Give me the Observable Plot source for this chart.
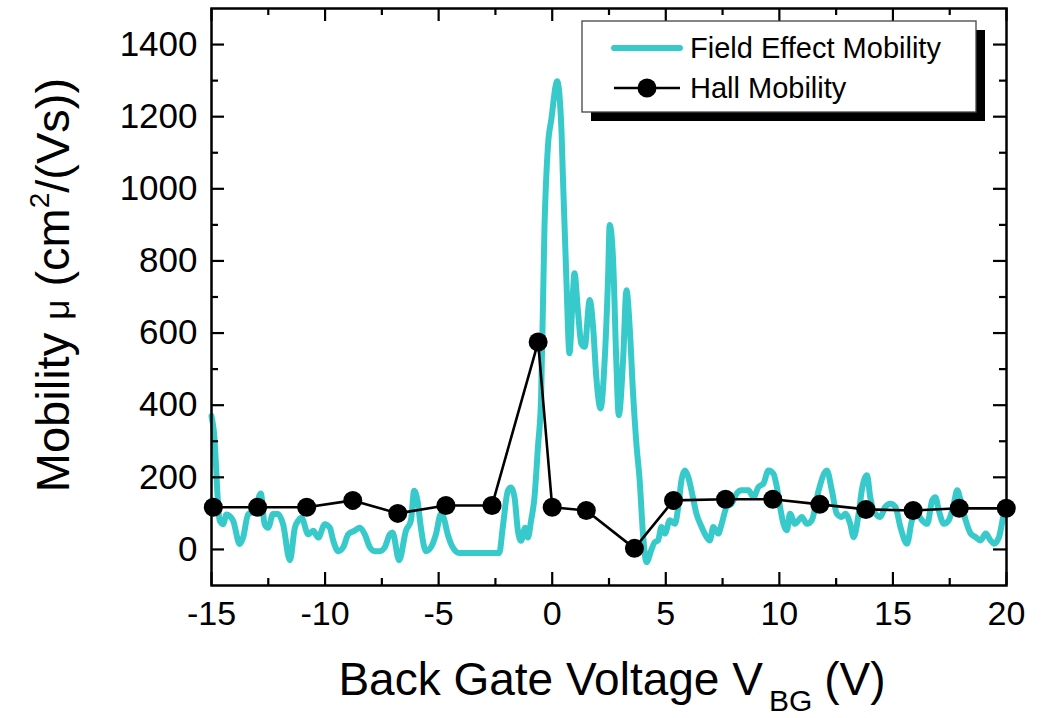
<!DOCTYPE html>
<html><head><meta charset="utf-8">
<script src="https://cdn.jsdelivr.net/npm/d3@7"></script>
<script src="https://cdn.jsdelivr.net/npm/@observablehq/plot@0.6"></script>
<style>body{margin:0;background:#fff;} #chart{width:1042px;height:718px;}</style>
</head><body><div id="chart"></div>
<script>
// ---- data ----
const fieldV = [-15.0,-14.9,-14.64,-14.49,-14.34,-14.05,-13.76,-13.61,-13.39,-13.10,-12.83,-12.66,-12.51,-12.29,-12.07,-11.85,-11.55,-11.33,-11.18,-11.04,-10.74,-10.52,-10.30,-10.01,-9.79,-9.64,-9.42,-9.20,-8.98,-8.69,-8.47,-8.25,-8.03,-7.81,-7.59,-7.37,-7.15,-7.03,-6.74,-6.44,-6.22,-6.08,-5.93,-5.78,-5.56,-5.34,-5.12,-4.90,-4.78,-4.60,-4.38,-4.09,-2.33,-2.18,-1.95,-1.81,-1.66,-1.51,-1.37,-1.19,-1.07,-0.93,-0.78,-0.63,-0.49,-0.34,-0.19,-0.04,0.22,0.40,0.47,0.62,0.76,0.91,0.98,1.13,1.28,1.43,1.65,1.80,1.94,2.13,2.31,2.46,2.53,2.68,2.82,2.93,3.12,3.27,3.41,3.56,3.71,3.85,4.00,4.15,4.37,4.51,4.66,4.81,4.96,5.18,5.40,5.55,5.69,5.84,5.99,6.13,6.35,6.58,6.80,6.94,7.09,7.31,7.46,7.68,7.90,8.12,8.34,8.64,8.86,9.08,9.30,9.52,9.74,9.89,10.03,10.18,10.33,10.47,10.69,10.99,11.21,11.43,11.73,12.09,12.31,12.53,12.75,12.90,13.12,13.27,13.49,13.63,13.86,14.00,14.15,14.44,14.66,14.89,15.11,15.33,15.62,15.84,16.06,16.28,16.51,16.73,16.87,17.02,17.24,17.46,17.68,17.83,17.98,18.20,18.42,18.64,18.86,19.08,19.30,19.45,19.67,19.89,20.0];
const fieldMu = [370,330,80,70,97,80,15,33,97,107,155,70,60,98,98,70,-30,60,80,88,42,52,33,70,60,24,-5,6,42,52,60,42,6,-5,-5,6,42,47,-30,52,80,163,135,60,-5,6,42,98,88,42,6,-10,-10,60,163,172,145,52,24,60,33,80,145,283,420,895,1117,1192,1298,1173,1034,756,544,710,766,664,571,562,692,617,479,391,525,756,900,803,525,372,525,719,617,432,290,192,40,-35,0,20,25,62,44,81,71,118,192,219,201,164,99,62,34,25,62,44,71,118,127,155,164,164,145,173,183,219,210,173,118,71,53,99,71,90,71,81,164,219,164,99,90,99,71,34,99,164,206,145,108,90,118,127,118,62,16,81,99,81,71,136,145,108,71,81,127,164,136,81,44,34,25,44,25,16,34,99,115];
const hallV  = [-14.92,-12.97,-10.81,-8.78,-6.80,-4.68,-2.65,-0.62,0.0,1.50,3.62,5.34,7.63,9.71,11.78,13.81,15.89,17.92,19.99];
const hallMu = [117,117,117,136,100,122,122,575,117,108,3,136,139,139,125,111,108,114,114];
const xTicksMajor = [-15,-10,-5,0,5,10,15,20];
const xTicksMinor = [-12.5,-7.5,-2.5,2.5,7.5,12.5,17.5];
const yTicksMajor = [0,200,400,600,800,1000,1200,1400];
const yTicksMinor = [100,300,500,700,900,1100,1300];
const seriesNames = ["Field Effect Mobility","Hall Mobility"];

const cyan = "#38cacb";
const FONT = "'Liberation Sans', Arial, Helvetica, sans-serif";
const W = 1042, H = 718, mL = 211, mR = 36, mT = 8, mB = 133;
const innerW = W - mL - mR, innerH = H - mT - mB;

const field = fieldV.map((v, i) => ({v, mu: fieldMu[i]}));
const hall = hallV.map((v, i) => ({v, mu: hallMu[i]}));

const tickStyle = {stroke: "black", strokeWidth: 2.2};
const chart = Plot.plot({
  width: W, height: H,
  marginLeft: mL, marginRight: mR, marginTop: mT, marginBottom: mB,
  style: {fontFamily: FONT, background: "white", color: "black", overflow: "visible"},
  x: {domain: [-15, 20]},
  y: {domain: [-100, 1500]},
  marks: [
    Plot.line(field, {x: "v", y: "mu", stroke: cyan, strokeWidth: 6, curve: "monotone-x", strokeLinejoin: "round", strokeLinecap: "round"}),
    Plot.line(hall, {x: "v", y: "mu", stroke: "black", strokeWidth: 2.6}),
    Plot.dot(hall, {x: "v", y: "mu", r: 9.5, fill: "black", stroke: "none"}),
    Plot.tickX(xTicksMajor, {x: d => d, insetTop: innerH - 13, ...tickStyle}),
    Plot.tickX(xTicksMajor, {x: d => d, insetBottom: innerH - 13, ...tickStyle}),
    Plot.tickX(xTicksMinor, {x: d => d, insetTop: innerH - 7, ...tickStyle}),
    Plot.tickX(xTicksMinor, {x: d => d, insetBottom: innerH - 7, ...tickStyle}),
    Plot.tickY(yTicksMajor, {y: d => d, insetRight: innerW - 13, ...tickStyle}),
    Plot.tickY(yTicksMajor, {y: d => d, insetLeft: innerW - 13, ...tickStyle}),
    Plot.tickY(yTicksMinor, {y: d => d, insetRight: innerW - 7, ...tickStyle}),
    Plot.tickY(yTicksMinor, {y: d => d, insetLeft: innerW - 7, ...tickStyle}),
    Plot.axisX({ticks: xTicksMajor, tickSize: 0, tickPadding: 15, fontSize: 34, tickFormat: d => String(d), label: null}),
    Plot.axisY({ticks: yTicksMajor, tickSize: 0, tickPadding: 14, fontSize: 35, tickFormat: d => String(d), label: null}),
    Plot.frame({stroke: "black", strokeWidth: 2.5})
  ]
});
document.getElementById("chart").appendChild(chart);

const svg = d3.select(chart);
// x axis title
const xt = svg.append("text").attr("x", 612).attr("y", 695).attr("text-anchor", "middle")
  .attr("font-size", 46).attr("font-family", FONT).attr("fill", "black");
xt.append("tspan").text("Back Gate Voltage V");
xt.append("tspan").attr("dx", 6).attr("dy", 16).attr("font-size", 30).text("BG");
xt.append("tspan").attr("dx", 12).attr("dy", -16).text("(V)");
// y axis title
const yt = svg.append("text").attr("transform", "translate(69,285) rotate(-90)").attr("text-anchor", "middle")
  .attr("font-size", 47).attr("font-family", FONT).attr("fill", "black");
yt.append("tspan").text("Mobility ");
yt.append("tspan").attr("font-size", 35).text("μ");
yt.append("tspan").text(" (cm");
yt.append("tspan").attr("font-size", 28).attr("dy", -20).text("2");
yt.append("tspan").attr("dy", 20).text("/(Vs))");

// legend
const lg = svg.append("g").attr("font-family", FONT).attr("font-size", 29).attr("text-anchor", "start");
lg.append("rect").attr("x", 591).attr("y", 30).attr("width", 394).attr("height", 91).attr("fill", "black");
lg.append("rect").attr("x", 582).attr("y", 21).attr("width", 394).attr("height", 91).attr("fill", "white").attr("stroke", "#444").attr("stroke-width", 1.3);
lg.append("line").attr("x1", 614).attr("x2", 680).attr("y1", 48).attr("y2", 48).attr("stroke", cyan).attr("stroke-width", 6).attr("stroke-linecap", "round");
lg.append("text").attr("x", 690).attr("y", 58).attr("text-anchor", "start").text(seriesNames[0]);
lg.append("line").attr("x1", 614).attr("x2", 680).attr("y1", 88).attr("y2", 88).attr("stroke", "black").attr("stroke-width", 2.6);
lg.append("circle").attr("cx", 647).attr("cy", 88).attr("r", 9.5).attr("fill", "black");
lg.append("text").attr("x", 690).attr("y", 98).attr("text-anchor", "start").text(seriesNames[1]);
</script></body></html>
